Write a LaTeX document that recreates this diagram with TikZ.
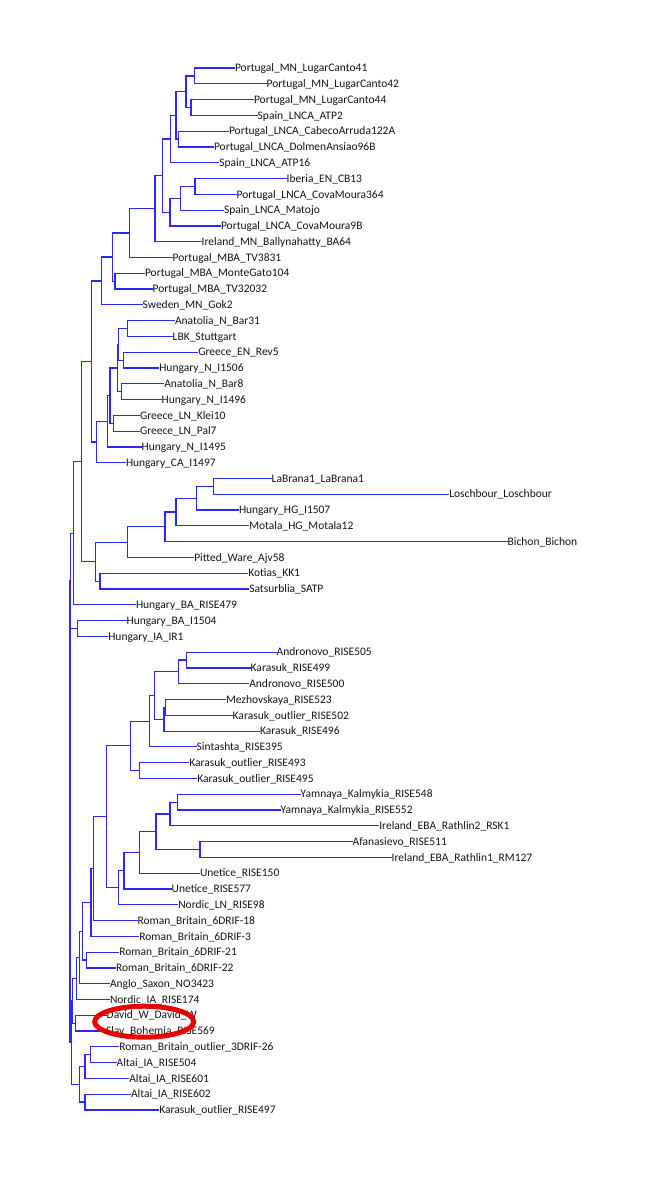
\documentclass[tikz,border=0pt]{standalone}
\usepackage{fontspec}
\usetikzlibrary{shapes.geometric}
\setmainfont{Carlito}
\definecolor{treeblue}{RGB}{40,40,255}
\definecolor{ringred}{RGB}{232,0,0}
\definecolor{labelcol}{RGB}{20,20,20}
\newcommand\tjoin[3]{\draw[br] (#1) |- (#2); \draw[br] (#1) |- (#3);}
\begin{document}
\begin{tikzpicture}[x=1pt,y=-1pt,
  br/.style={draw=treeblue, line width=1.2pt},
  leaf/.style={anchor=west, inner sep=0pt, outer sep=0pt, text height=7.4pt, text depth=0pt,
    text=labelcol, font=\fontsize{11.5}{13}\selectfont},
  ring/.style={draw=ringred, line width=5pt}]
\useasboundingbox (0,0) rectangle (665,1187);
% leaves
\node[leaf] (L1) at (235,68.0) {Portugal\_MN\_LugarCanto41};
\node[leaf] (L2) at (266.7,83.8) {Portugal\_MN\_LugarCanto42};
\node[leaf] (L3) at (254,99.6) {Portugal\_MN\_LugarCanto44};
\node[leaf] (L4) at (257.7,115.4) {Spain\_LNCA\_ATP2};
\node[leaf] (L5) at (229,131.2) {Portugal\_LNCA\_CabecoArruda122A};
\node[leaf] (L6) at (214,146.9) {Portugal\_LNCA\_DolmenAnsiao96B};
\node[leaf] (L7) at (219.3,162.7) {Spain\_LNCA\_ATP16};
\node[leaf] (L8) at (286.7,178.5) {Iberia\_EN\_CB13};
\node[leaf] (L9) at (236.7,194.3) {Portugal\_LNCA\_CovaMoura364};
\node[leaf] (L10) at (224,210.1) {Spain\_LNCA\_Matojo};
\node[leaf] (L11) at (221,225.9) {Portugal\_LNCA\_CovaMoura9B};
\node[leaf] (L12) at (201.7,241.7) {Ireland\_MN\_Ballynahatty\_BA64};
\node[leaf] (L13) at (172.7,257.4) {Portugal\_MBA\_TV3831};
\node[leaf] (L14) at (145,273.2) {Portugal\_MBA\_MonteGato104};
\node[leaf] (L15) at (152.7,289.0) {Portugal\_MBA\_TV32032};
\node[leaf] (L16) at (142.7,304.8) {Sweden\_MN\_Gok2};
\node[leaf] (L17) at (175,320.6) {Anatolia\_N\_Bar31};
\node[leaf] (L18) at (172.7,336.4) {LBK\_Stuttgart};
\node[leaf] (L19) at (198.3,352.2) {Greece\_EN\_Rev5};
\node[leaf] (L20) at (159.3,368.0) {Hungary\_N\_I1506};
\node[leaf] (L21) at (164.3,383.7) {Anatolia\_N\_Bar8};
\node[leaf] (L22) at (161.7,399.5) {Hungary\_N\_I1496};
\node[leaf] (L23) at (140,415.3) {Greece\_LN\_Klei10};
\node[leaf] (L24) at (140,431.1) {Greece\_LN\_Pal7};
\node[leaf] (L25) at (141.7,446.9) {Hungary\_N\_I1495};
\node[leaf] (L26) at (126,462.7) {Hungary\_CA\_I1497};
\node[leaf] (L27) at (271.7,478.5) {LaBrana1\_LaBrana1};
\node[leaf] (L28) at (449.3,494.2) {Loschbour\_Loschbour};
\node[leaf] (L29) at (239,510.0) {Hungary\_HG\_I1507};
\node[leaf] (L30) at (249.3,525.8) {Motala\_HG\_Motala12};
\node[leaf] (L31) at (507.7,541.6) {Bichon\_Bichon};
\node[leaf] (L32) at (194.3,557.4) {Pitted\_Ware\_Ajv58};
\node[leaf] (L33) at (248.3,573.2) {Kotias\_KK1};
\node[leaf] (L34) at (249.3,589.0) {Satsurblia\_SATP};
\node[leaf] (L35) at (136,604.8) {Hungary\_BA\_RISE479};
\node[leaf] (L36) at (126.7,620.6) {Hungary\_BA\_I1504};
\node[leaf] (L37) at (108.3,636.3) {Hungary\_IA\_IR1};
\node[leaf] (L38) at (276.7,652.1) {Andronovo\_RISE505};
\node[leaf] (L39) at (250.7,667.9) {Karasuk\_RISE499};
\node[leaf] (L40) at (249.3,683.7) {Andronovo\_RISE500};
\node[leaf] (L41) at (226,699.5) {Mezhovskaya\_RISE523};
\node[leaf] (L42) at (232.7,715.3) {Karasuk\_outlier\_RISE502};
\node[leaf] (L43) at (260,731.1) {Karasuk\_RISE496};
\node[leaf] (L44) at (196.7,746.8) {Sintashta\_RISE395};
\node[leaf] (L45) at (189.3,762.6) {Karasuk\_outlier\_RISE493};
\node[leaf] (L46) at (197.3,778.4) {Karasuk\_outlier\_RISE495};
\node[leaf] (L47) at (300.7,794.2) {Yamnaya\_Kalmykia\_RISE548};
\node[leaf] (L48) at (280.7,810.0) {Yamnaya\_Kalmykia\_RISE552};
\node[leaf] (L49) at (379.3,825.8) {Ireland\_EBA\_Rathlin2\_RSK1};
\node[leaf] (L50) at (352.7,841.6) {Afanasievo\_RISE511};
\node[leaf] (L51) at (391.7,857.3) {Ireland\_EBA\_Rathlin1\_RM127};
\node[leaf] (L52) at (200,873.1) {Unetice\_RISE150};
\node[leaf] (L53) at (171.7,888.9) {Unetice\_RISE577};
\node[leaf] (L54) at (178.3,904.7) {Nordic\_LN\_RISE98};
\node[leaf] (L55) at (137.5,920.5) {Roman\_Britain\_6DRIF-18};
\node[leaf] (L56) at (139.3,936.3) {Roman\_Britain\_6DRIF-3};
\node[leaf] (L57) at (119.3,952.1) {Roman\_Britain\_6DRIF-21};
\node[leaf] (L58) at (116,967.9) {Roman\_Britain\_6DRIF-22};
\node[leaf] (L59) at (110,983.6) {Anglo\_Saxon\_NO3423};
\node[leaf] (L60) at (110,999.4) {Nordic\_IA\_RISE174};
\node[leaf] (L61) at (106.7,1015.2) {David\_W\_David\_W};
\node[leaf] (L62) at (106,1031.0) {Slav\_Bohemia\_RISE569};
\node[leaf] (L63) at (119.3,1046.8) {Roman\_Britain\_outlier\_3DRIF-26};
\node[leaf] (L64) at (116.7,1062.6) {Altai\_IA\_RISE504};
\node[leaf] (L65) at (129.3,1078.4) {Altai\_IA\_RISE601};
\node[leaf] (L66) at (131,1094.1) {Altai\_IA\_RISE602};
\node[leaf] (L67) at (159.3,1109.9) {Karasuk\_outlier\_RISE497};
% internal nodes
\coordinate (a1) at (194.3,75.9);
\coordinate (a2) at (191,107.5);
\coordinate (a3) at (186,91.7);
\coordinate (a4) at (178.7,139.05);
\coordinate (a5) at (176,115.4);
\coordinate (a6) at (170.3,139.05);
\coordinate (b1) at (195,186.4);
\coordinate (b2) at (180.7,198.25);
\coordinate (b3) at (170,212.1);
\coordinate (c1) at (162.7,175.6);
\coordinate (c2) at (155,208.65);
\coordinate (c3) at (129.3,233.0);
\coordinate (c4) at (115,281.1);
\coordinate (c5) at (112.7,257.05);
\coordinate (c6) at (101.3,280.9);
\coordinate (d1) at (127.7,328.5);
\coordinate (d2) at (123.3,360.1);
\coordinate (d3) at (118.3,344.3);
\coordinate (d4) at (121.7,391.6);
\coordinate (d5) at (117.3,367.95);
\coordinate (d6) at (113.3,423.2);
\coordinate (d7) at (110,395.6);
\coordinate (d8) at (107.5,421.25);
\coordinate (d9) at (96.5,441.98);
\coordinate (e1) at (91.7,361.4);
\coordinate (f1) at (213.3,486.35);
\coordinate (f2) at (196.7,498.2);
\coordinate (f3) at (176,512.0);
\coordinate (f4) at (165,526.8);
\coordinate (f5) at (127.7,542.1);
\coordinate (f6) at (100,581.1);
\coordinate (f7) at (95.7,561.6);
\coordinate (g1) at (81.7,461.5);
\coordinate (g2) at (73.3,533.15);
\coordinate (h1) at (77.7,628.45);
\coordinate (g3) at (70.7,580.8);
\coordinate (i1) at (186.7,660.0);
\coordinate (i2) at (178.3,671.85);
\coordinate (i3) at (165.3,707.4);
\coordinate (i4) at (164,719.25);
\coordinate (i5) at (154.7,695.55);
\coordinate (i6) at (149.3,721.2);
\coordinate (i7) at (139.3,770.5);
\coordinate (i8) at (130.7,745.85);
\coordinate (j1) at (177.3,802.1);
\coordinate (j2) at (170,813.95);
\coordinate (j3) at (200,849.45);
\coordinate (j4) at (156,831.7);
\coordinate (j5) at (139.3,852.4);
\coordinate (j6) at (124,870.65);
\coordinate (j7) at (118.3,887.7);
\coordinate (k1) at (106.3,816.8);
\coordinate (k2) at (93.3,868.65);
\coordinate (k3) at (91,902.5);
\coordinate (m1) at (86.3,960.0);
\coordinate (k4) at (82.3,931.25);
\coordinate (k5) at (79.7,957.4);
\coordinate (k6) at (76.3,978.4);
\coordinate (m2) at (75.3,1023.1);
\coordinate (k7) at (72.8,1000.75);
\coordinate (p1) at (90.7,1054.7);
\coordinate (p2) at (85,1066.55);
\coordinate (p3) at (85,1102.0);
\coordinate (p4) at (79.3,1084.3);
\coordinate (k8) at (71.3,1042.5);
\coordinate (root) at (69.9,811.65);
% branches
\tjoin{a1}{L1}{L2}
\tjoin{a2}{L3}{L4}
\tjoin{a3}{a1}{a2}
\tjoin{a4}{L5}{L6}
\tjoin{a5}{a3}{a4}
\tjoin{a6}{a5}{L7}
\tjoin{b1}{L8}{L9}
\tjoin{b2}{b1}{L10}
\tjoin{b3}{b2}{L11}
\tjoin{c1}{a6}{b3}
\tjoin{c2}{c1}{L12}
\tjoin{c3}{c2}{L13}
\tjoin{c4}{L14}{L15}
\tjoin{c5}{c3}{c4}
\tjoin{c6}{c5}{L16}
\tjoin{d1}{L17}{L18}
\tjoin{d2}{L19}{L20}
\tjoin{d3}{d1}{d2}
\tjoin{d4}{L21}{L22}
\tjoin{d5}{d3}{d4}
\tjoin{d6}{L23}{L24}
\tjoin{d7}{d5}{d6}
\tjoin{d8}{d7}{L25}
\tjoin{d9}{d8}{L26}
\tjoin{e1}{c6}{d9}
\tjoin{f1}{L27}{L28}
\tjoin{f2}{f1}{L29}
\tjoin{f3}{f2}{L30}
\tjoin{f4}{f3}{L31}
\tjoin{f5}{f4}{L32}
\tjoin{f6}{L33}{L34}
\tjoin{f7}{f5}{f6}
\tjoin{g1}{e1}{f7}
\tjoin{g2}{g1}{L35}
\tjoin{h1}{L36}{L37}
\tjoin{g3}{g2}{h1}
\tjoin{i1}{L38}{L39}
\tjoin{i2}{i1}{L40}
\tjoin{i3}{L41}{L42}
\tjoin{i4}{i3}{L43}
\tjoin{i5}{i2}{i4}
\tjoin{i6}{i5}{L44}
\tjoin{i7}{L45}{L46}
\tjoin{i8}{i6}{i7}
\tjoin{j1}{L47}{L48}
\tjoin{j2}{j1}{L49}
\tjoin{j3}{L50}{L51}
\tjoin{j4}{j2}{j3}
\tjoin{j5}{j4}{L52}
\tjoin{j6}{j5}{L53}
\tjoin{j7}{j6}{L54}
\tjoin{k1}{i8}{j7}
\tjoin{k2}{k1}{L55}
\tjoin{k3}{k2}{L56}
\tjoin{m1}{L57}{L58}
\tjoin{k4}{k3}{m1}
\tjoin{k5}{k4}{L59}
\tjoin{k6}{k5}{L60}
\tjoin{m2}{L61}{L62}
\tjoin{k7}{k6}{m2}
\tjoin{p1}{L63}{L64}
\tjoin{p2}{p1}{L65}
\tjoin{p3}{L66}{L67}
\tjoin{p4}{p2}{p3}
\tjoin{k8}{k7}{p4}
\tjoin{root}{g3}{k8}
% highlight ring
\node[ring, ellipse, minimum width=99pt, minimum height=31pt, inner sep=0pt] (hl) at (144.2,1021.7) {};
\end{tikzpicture}
\end{document}
